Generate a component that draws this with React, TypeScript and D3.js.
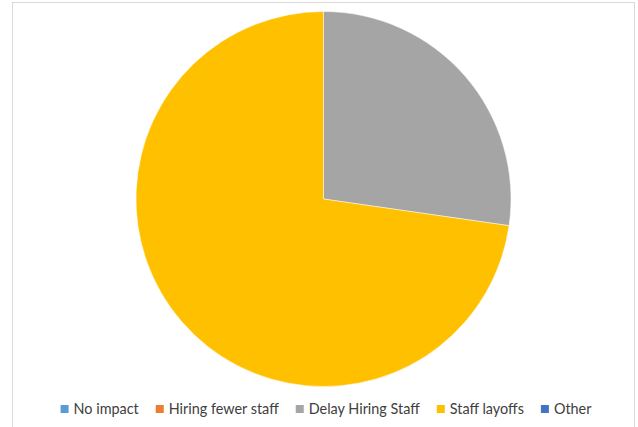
import React, { useEffect, useRef } from "react";
import * as d3 from "d3";

const categories = ["No impact", "Hiring fewer staff", "Delay Hiring Staff", "Staff layoffs", "Other"];
const values = [0, 0, 3, 8, 0];
const colors = ["#5B9BD5", "#ED7D31", "#A5A5A5", "#FFC000", "#4472C4"];

const W = 638;
const H = 427;

export default function App() {
  const ref = useRef<SVGSVGElement>(null);

  useEffect(() => {
    const svg = d3.select(ref.current);
    svg.selectAll("*").remove();

    svg.append("rect")
      .attr("x", 12.5).attr("y", 2.5)
      .attr("width", 622).attr("height", 430)
      .attr("fill", "#fff").attr("stroke", "#d9d9d9").attr("stroke-width", 1);

    const cx = 323.5, cy = 199, r = 187.5;
    const data = categories.map((c, i) => ({ c, v: values[i], color: colors[i] }));
    const pie = d3.pie<any>().value((d) => d.v).sort(null);
    const arc = d3.arc<any>().innerRadius(0).outerRadius(r);
    const g = svg.append("g").attr("transform", `translate(${cx},${cy})`);
    g.selectAll("path")
      .data(pie(data).filter((d) => d.data.v > 0))
      .join("path")
      .attr("d", arc)
      .attr("fill", (d) => d.data.color)
      .attr("stroke", "#fff")
      .attr("stroke-width", 0.5);

    // legend
    const lg = svg.append("g").attr("font-family", "Lato, 'Open Sans', sans-serif").attr("font-size", 14.4).attr("fill", "#404040");
    const items = lg.selectAll("g").data(data).join("g");
    items.append("rect").attr("width", 8).attr("height", 8).attr("y", -8.5).attr("fill", (d) => d.color);
    const texts = items.append("text").attr("x", 13).attr("y", 0.5).text((d) => d.c);
    const widths: number[] = [];
    texts.each(function () { widths.push((this as SVGTextElement).getComputedTextLength()); });
    const gap = 17;
    const itemW = widths.map((w) => 13 + w);
    const total = d3.sum(itemW) + gap * (itemW.length - 1);
    let x = 326 - total / 2;
    items.each(function (_d, i) {
      d3.select(this).attr("transform", `translate(${x},${413.5})`);
      x += itemW[i] + gap;
    });
  }, []);

  return (
    <svg ref={ref} width={W} height={H} style={{ position: "absolute", left: 0, top: 0, display: "block" }} />
  );
}
